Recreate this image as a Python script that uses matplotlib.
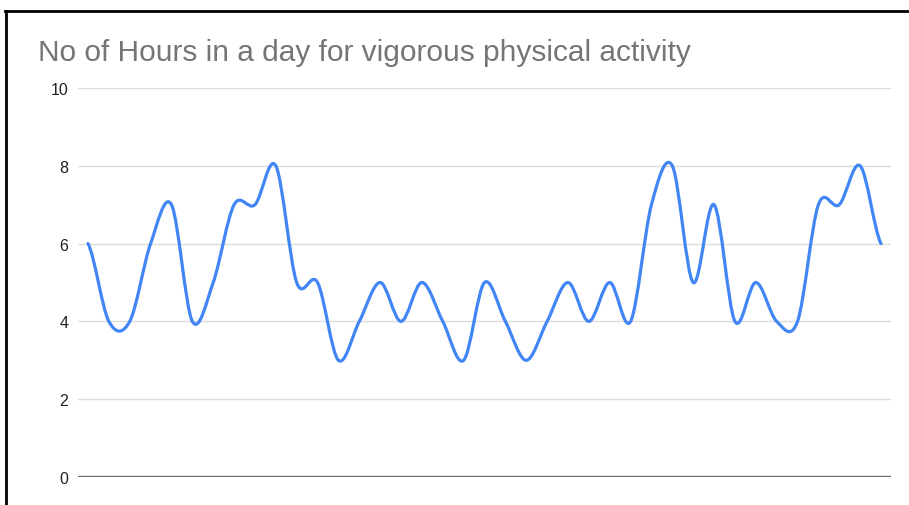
import matplotlib.pyplot as plt
from matplotlib.path import Path
from matplotlib.patches import PathPatch
from matplotlib.lines import Line2D

# values (one point per respondent)
hours = [6, 4, 4, 6, 7, 4, 5, 7, 7, 8, 5, 5, 3, 4, 5, 4, 5, 4, 3, 5,
         4, 3, 4, 5, 4, 5, 4, 7, 8, 5, 7, 4, 5, 4, 4, 7, 7, 8, 6]
y_ticks = [0, 2, 4, 6, 8, 10]
title = "No of Hours in a day for vigorous physical activity"


def smooth_path(ys):
    """Catmull-Rom style curve through the points, as cubic bezier segments."""
    n = len(ys)
    tang = []
    for i in range(n):
        if i == 0:
            tang.append((ys[1] - ys[0]) / 2)
        elif i == n - 1:
            tang.append((ys[-1] - ys[-2]) / 2)
        else:
            tang.append((ys[i + 1] - ys[i - 1]) / 2)
    verts = [(0, ys[0])]
    codes = [Path.MOVETO]
    for i in range(n - 1):
        verts += [(i + 1 / 3, ys[i] + tang[i] / 3),
                  (i + 2 / 3, ys[i + 1] - tang[i + 1] / 3),
                  (i + 1, ys[i + 1])]
        codes += [Path.CURVE4] * 3
    return Path(verts, codes)


plt.rcParams['font.family'] = ['Liberation Sans', 'DejaVu Sans']

fig = plt.figure(figsize=(9.09, 5.06), dpi=100)
ax = fig.add_axes([78 / 909, 28 / 506, 813 / 909, 389 / 506])

ax.add_patch(PathPatch(smooth_path(hours), facecolor='none', edgecolor='#4285f4',
                       lw=2.3, capstyle='round', joinstyle='round', zorder=3))

pad = 10 / 20.87
ax.set_xlim(-pad, len(hours) - 1 + pad)
ax.set_ylim(0, 10)
ax.set_yticks(y_ticks)
ax.set_xticks([])
ax.grid(axis='y', color='#dcdcdc', lw=1)
ax.axhline(0, color='#6e6e6e', lw=2.4, zorder=2)
for s in ax.spines.values():
    s.set_visible(False)
ax.tick_params(axis='y', length=0, pad=7, labelsize=11.5, labelcolor='#222222')

fig.text(38 / 909, 1 - 61 / 506, title, fontsize=21.5, color='#757575')

# frame of the screenshot
fig.add_artist(Line2D([5 / 909, 1], [1 - 12 / 506] * 2, color='black', lw=2))
fig.add_artist(Line2D([6 / 909] * 2, [0, 1 - 12 / 506], color='black', lw=2))

fig.savefig('out.png', dpi=100)
